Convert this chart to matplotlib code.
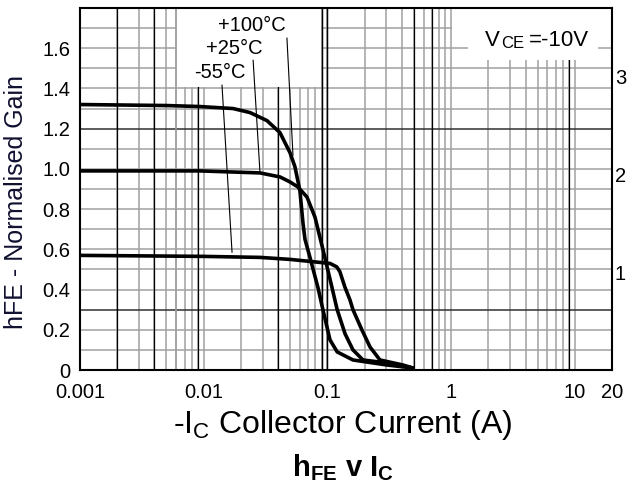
import matplotlib
matplotlib.use("Agg")
import matplotlib.pyplot as plt
from matplotlib.patches import Rectangle
import numpy as np

plt.rcParams['font.family'] = ['Liberation Sans', 'DejaVu Sans']
plt.rcParams['mathtext.fontset'] = 'custom'
plt.rcParams['mathtext.rm'] = 'Liberation Sans'
plt.rcParams['mathtext.bf'] = 'Liberation Sans:bold'
plt.rcParams['mathtext.it'] = 'Liberation Sans:italic'

# curve data
ic_100 = [0.001, 0.005, 0.0093, 0.0173, 0.0237, 0.0325, 0.0414, 0.0499, 0.0547, 0.060,
          0.0635, 0.0659, 0.0723, 0.0839, 0.092, 0.105, 0.12, 0.161, 0.303, 0.492]
hfe_100 = [1.32, 1.315, 1.31, 1.30, 1.28, 1.24, 1.18, 1.08, 1.01, 0.89,
           0.73, 0.65, 0.56, 0.41, 0.30, 0.15, 0.09, 0.05, 0.025, 0.01]

ic_25 = [0.001, 0.005, 0.0093, 0.0285, 0.0414, 0.0499, 0.0578, 0.0684, 0.0794, 0.087,
         0.092, 0.109, 0.12, 0.139, 0.161, 0.194, 0.303, 0.492]
hfe_25 = [0.99, 0.99, 0.99, 0.98, 0.96, 0.935, 0.91, 0.86, 0.76, 0.66,
          0.60, 0.41, 0.30, 0.18, 0.10, 0.05, 0.035, 0.01]

ic_m55 = [0.001, 0.01, 0.0285, 0.0499, 0.0723, 0.105, 0.119, 0.126, 0.139, 0.152,
          0.161, 0.190, 0.221, 0.266, 0.408, 0.492]
hfe_m55 = [0.57, 0.565, 0.56, 0.55, 0.54, 0.53, 0.513, 0.49, 0.41, 0.35,
           0.30, 0.2, 0.115, 0.05, 0.025, 0.01]

x_ticks = [0.001, 0.01, 0.1, 1, 10, 20]
x_ticklabels = ['0.001', '0.01', '0.1', '1', '10', '20']
y_ticks = [0, 0.2, 0.4, 0.6, 0.8, 1.0, 1.2, 1.4, 1.6]
y_ticklabels = ['0', '0.2', '0.4', '0.6', '0.8', '1.0', '1.2', '1.4', '1.6']
right_ticks = [1, 2, 3]

fig = plt.figure(figsize=(6.28, 4.87), dpi=100)
ax = fig.add_axes([0.1274, 0.2402, 0.8471, 0.7434])
ax.set_xscale('log')
ax.set_xlim(0.001, 20)
ax.set_ylim(0, 1.8)

# datasheet style grid: grey lines, a few darker ones
dark_v = [0.002, 0.004, 0.009, 0.04, 0.09, 0.1, 0.5, 0.7, 9]
grey = '#a0a0a0'
for dec in [0.001, 0.01, 0.1, 1]:
    for m in range(1, 10):
        v = dec * m
        if v <= 0.001:
            continue
        ax.axvline(v, color=grey, lw=1.1, zorder=1)
ax.axvline(10, color=grey, lw=1.1, zorder=1)
for v in dark_v:
    ax.axvline(v, color='black', lw=0.9, zorder=1.2)
for h in np.arange(0.1, 1.8, 0.1):
    dark = abs(h - 0.3) < 1e-6 or abs(h - 1.2) < 1e-6
    ax.axhline(h, color='#303030' if dark else grey, lw=1.1, zorder=1)

# white label boxes covering the grid
ax.add_patch(Rectangle((0.00605, 1.405), 0.0885 - 0.00605, 0.4, facecolor='white',
                       edgecolor='none', zorder=1.5))
ax.add_patch(Rectangle((1.02, 1.62), 20 - 1.02, 0.2, facecolor='white',
                       edgecolor='none', zorder=1.5))
ax.add_patch(Rectangle((1.37, 1.54), 15.4 - 1.37, 0.12, facecolor='white',
                       edgecolor='none', zorder=1.5))
ax.axvline(0.006, color=grey, lw=1.1, zorder=1.6)
ax.axvline(0.09, color='black', lw=0.9, zorder=1.6)
ax.axvline(0.1, color='black', lw=0.9, zorder=1.6)

for xs, ys in [(ic_100, hfe_100), (ic_25, hfe_25), (ic_m55, hfe_m55)]:
    ax.plot(xs, ys, color='black', lw=2.6, solid_capstyle='round',
            solid_joinstyle='round', zorder=3)

# labels with leader lines
ax.text(0.0246, 1.714, '+100°C', fontsize=14.5, ha='center', va='center', zorder=4)
ax.text(0.01758, 1.60, '+25°C', fontsize=14.5, ha='center', va='center', zorder=4)
ax.text(0.01355, 1.48, '-55°C', fontsize=14.5, ha='center', va='center', zorder=4)
ax.plot([0.0471, 0.0527], [1.65, 1.068], color='black', lw=0.8, zorder=2.5)
ax.plot([0.0251, 0.0285], [1.54, 0.984], color='black', lw=0.8, zorder=2.5)
ax.plot([0.01406, 0.01695], [1.416, 0.586], color='black', lw=0.8, zorder=2.5)

tv = ax.text(0.762, 0.896, 'V', fontsize=16, transform=ax.transAxes,
             ha='left', va='baseline', zorder=4)
tce = ax.annotate('CE', xy=(1, 0), xycoords=tv, xytext=(0.3, 0),
                  textcoords='offset points', fontsize=12, va='bottom', ha='left', zorder=4)
ax.annotate('=-10V', xy=(1, 0), xycoords=tce, xytext=(3.5, 0),
            textcoords='offset points', fontsize=16, va='bottom', ha='left', zorder=4)

ax.set_xticks(x_ticks)
ax.set_xticklabels(x_ticklabels)
ax.xaxis.set_minor_locator(matplotlib.ticker.NullLocator())
ax.set_yticks(y_ticks)
ax.set_yticklabels(y_ticklabels)
ax.tick_params(axis='both', length=0, labelsize=14.5)
ax.tick_params(axis='x', pad=9)
ax.tick_params(axis='y', pad=7)
for s in ax.spines.values():
    s.set_linewidth(1.5)
    s.set_zorder(5)

ax2 = ax.twinx()
ax2.set_ylim(0, 3.7)
ax2.set_yticks(right_ticks)
ax2.set_yticklabels([str(t) for t in right_ticks])
ax2.tick_params(axis='y', length=0, labelsize=14.5, pad=2)
for s in ax2.spines.values():
    s.set_visible(False)

ax.set_ylabel('hFE - Normalised Gain', fontsize=18, color='#101030')
ax.yaxis.set_label_coords(-0.097, 0.465)
fig.text(0.546, 0.128, r'-I$_\mathrm{C}$ Collector Current (A)', fontsize=23,
         ha='center', va='center')
fig.text(0.546, 0.04, r'$\mathbf{h_{FE}}$ $\mathbf{v}$ $\mathbf{I_C}$', fontsize=21,
         ha='center', va='center')

fig.savefig('out.png', dpi=100)
